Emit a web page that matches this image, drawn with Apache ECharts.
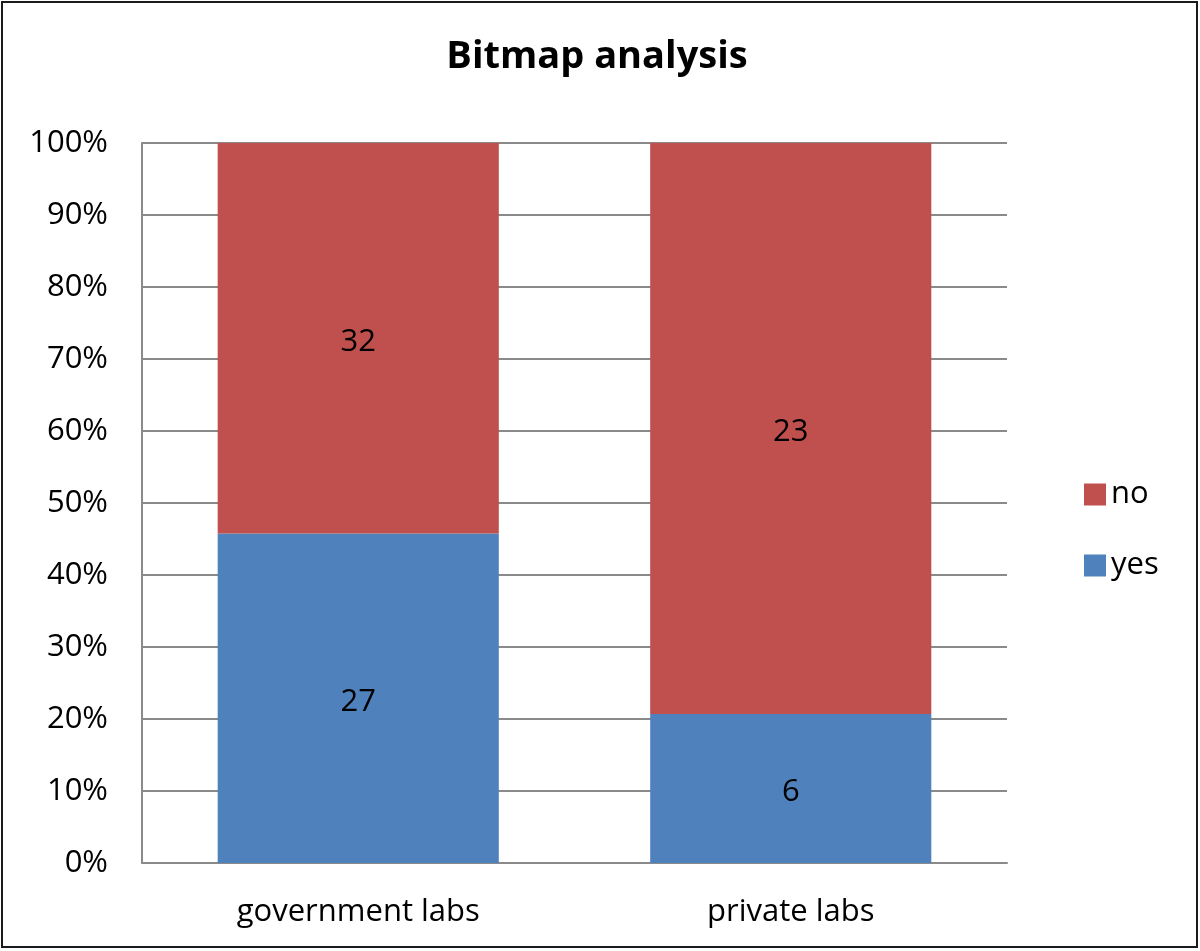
<!DOCTYPE html>
<html>
<head>
<meta charset="utf-8">
<script src="https://cdn.jsdelivr.net/npm/echarts@6/dist/echarts.min.js"></script>
<style>
  html, body { margin: 0; padding: 0; background: #fff; }
  #chart { width: 1200px; height: 951px; }
</style>
</head>
<body>
<div id="chart"></div>
<script>
var categories = ['government labs', 'private labs'];
var yesCounts = [27, 6];
var noCounts = [32, 23];
var yTicks = [0, 10, 20, 30, 40, 50, 60, 70, 80, 90, 100];

var FONT = '"Open Sans", Carlito, Calibri, sans-serif';

// share of each group in percent, the chart is a 100% stacked column
function share(part, other) {
    var out = [];
    for (var i = 0; i < part.length; i++) {
        out.push({ value: part[i] / (part[i] + other[i]) * 100, count: part[i] });
    }
    return out;
}

var chart = echarts.init(document.getElementById('chart'));
var option = {
    animation: false,
    title: {
        text: 'Bitmap analysis',
        left: 592,
        top: 33,
        textAlign: 'center',
        textStyle: { fontFamily: FONT, fontSize: 38, fontWeight: 'bold', color: '#000' }
    },
    legend: {
        orient: 'vertical',
        left: 1079,
        top: 474,
        itemWidth: 22,
        itemHeight: 22,
        itemGap: 40,
        icon: 'rect',
        textStyle: { fontFamily: FONT, fontSize: 31, color: '#000' },
        data: ['no', 'yes']
    },
    grid: { left: 142, right: 193, top: 143, bottom: 88 },
    xAxis: {
        type: 'category',
        data: categories,
        axisLine: { lineStyle: { color: '#8a8a8a', width: 2 } },
        axisTick: { show: false },
        axisLabel: { fontFamily: FONT, fontSize: 31, color: '#000', margin: 34 }
    },
    yAxis: {
        type: 'value',
        min: 0,
        max: 100,
        interval: 10,
        axisLine: { show: true, lineStyle: { color: '#8a8a8a', width: 2 } },
        axisTick: { show: false },
        axisLabel: {
            fontFamily: FONT, fontSize: 31, color: '#000', margin: 34,
            formatter: function (v) { return yTicks.indexOf(v) >= 0 ? v + '%' : ''; }
        },
        splitLine: { lineStyle: { color: '#8a8a8a', width: 2 } }
    },
    series: [
        {
            name: 'yes',
            type: 'bar',
            stack: 'all',
            barCategoryGap: '35%',
            itemStyle: { color: '#4F81BD' },
            label: {
                show: true, position: 'inside', offset: [0, 4],
                fontFamily: FONT, fontSize: 31, color: '#000',
                formatter: function (p) { return p.data.count; }
            },
            data: share(yesCounts, noCounts)
        },
        {
            name: 'no',
            type: 'bar',
            stack: 'all',
            barCategoryGap: '35%',
            itemStyle: { color: '#C0504D' },
            label: {
                show: true, position: 'inside', offset: [0, 4],
                fontFamily: FONT, fontSize: 31, color: '#000',
                formatter: function (p) { return p.data.count; }
            },
            data: share(noCounts, yesCounts)
        }
    ],
    graphic: [{
        type: 'rect',
        shape: { x: 2, y: 2, width: 1195, height: 945 },
        style: { fill: 'none', stroke: '#1a1a1a', lineWidth: 2 },
        silent: true
    }]
};
chart.setOption(option);
</script>
</body>
</html>
